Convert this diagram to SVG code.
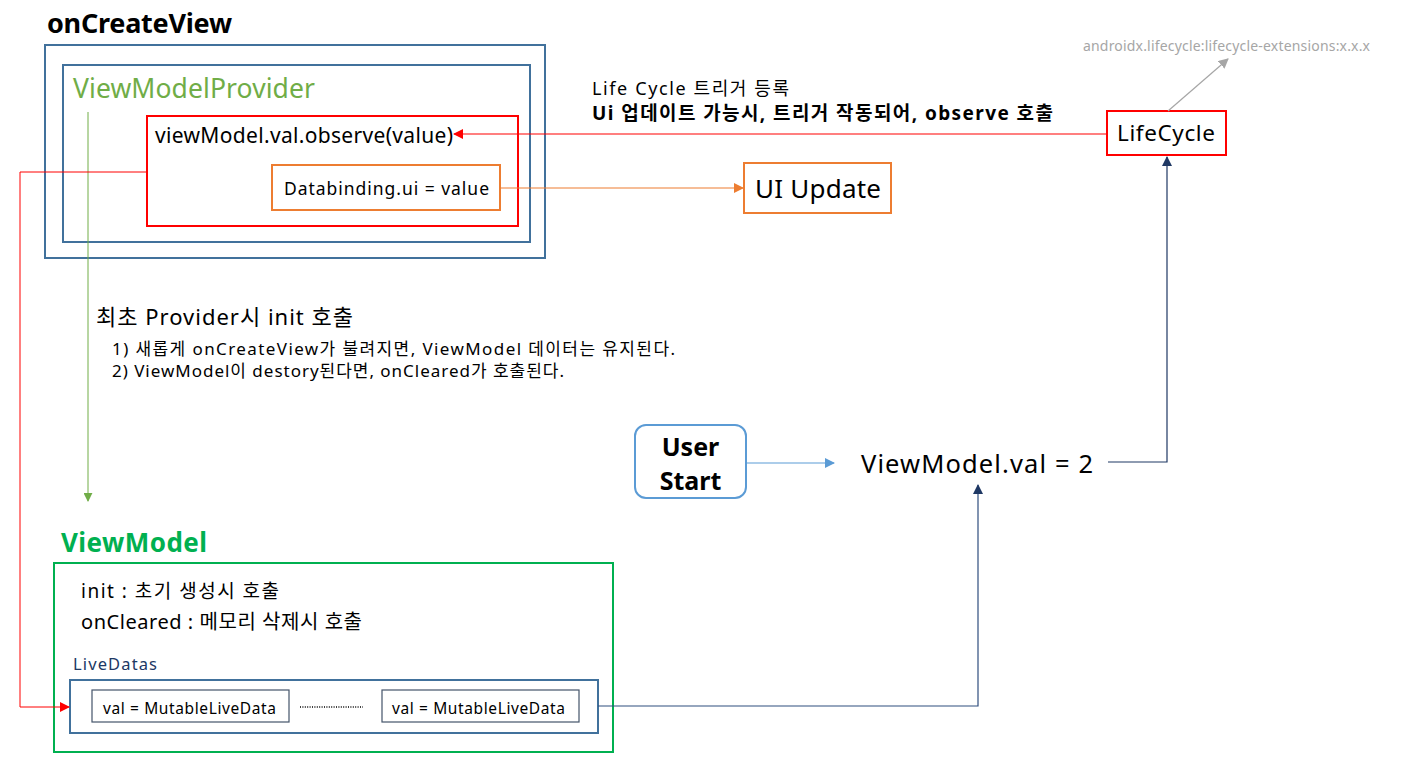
<svg xmlns="http://www.w3.org/2000/svg" width="1404" height="770" viewBox="0 0 1404 770">
<defs>
<style>
text{font-family:"Noto Sans","Noto Sans CJK KR",sans-serif;fill:#000}
.box{fill:none}
.bl{stroke:#41719C;stroke-width:2}
.rd{stroke:#FF0000;stroke-width:2}
.or{stroke:#ED7D31;stroke-width:2}
.gr{stroke:#00B050;stroke-width:2}
.sl{stroke:#44546A;stroke-width:1.2}
.c{fill:none}
</style>
<marker id="aRed" viewBox="0 0 10 10" refX="9" refY="5" markerWidth="10" markerHeight="10" markerUnits="userSpaceOnUse" orient="auto"><path d="M0,0L10,5L0,10z" fill="#FF0000"/></marker>
<marker id="aOr" viewBox="0 0 10 10" refX="9" refY="5" markerWidth="10" markerHeight="10" markerUnits="userSpaceOnUse" orient="auto"><path d="M0,0L10,5L0,10z" fill="#ED7D31"/></marker>
<marker id="aGray" viewBox="0 0 10 10" refX="9" refY="5" markerWidth="10" markerHeight="10" markerUnits="userSpaceOnUse" orient="auto"><path d="M0,0L10,5L0,10z" fill="#A6A6A6"/></marker>
<marker id="aGreen" viewBox="0 0 10 10" refX="9" refY="5" markerWidth="9" markerHeight="9" markerUnits="userSpaceOnUse" orient="auto"><path d="M0,0L10,5L0,10z" fill="#70AD47"/></marker>
<marker id="aBlue" viewBox="0 0 10 10" refX="9" refY="5" markerWidth="10" markerHeight="10" markerUnits="userSpaceOnUse" orient="auto"><path d="M0,0L10,5L0,10z" fill="#5B9BD5"/></marker>
<marker id="aNavy" viewBox="0 0 10 10" refX="9" refY="5" markerWidth="10" markerHeight="10" markerUnits="userSpaceOnUse" orient="auto"><path d="M0,0L10,5L0,10z" fill="#1F3864"/></marker>
</defs>

<g id="onCreateView">
<text x="47" y="33" font-size="27" font-weight="bold" textLength="185">onCreateView</text>
<rect class="box bl" x="45" y="45" width="500" height="213"/>
</g>
<g id="viewModelProvider">
<rect class="box bl" x="63" y="65" width="467" height="177"/>
<text x="73" y="98" font-size="26.5" textLength="242" style="fill:#70AD47">ViewModelProvider</text>
</g>
<g id="observe">
<rect class="box rd" x="147" y="116" width="371" height="110"/>
<text x="155" y="143" font-size="21" textLength="298">viewModel.val.observe(value)</text>
</g>
<g id="databinding">
<rect class="box or" x="272" y="165" width="228" height="45"/>
<text x="284" y="195" font-size="17.5" textLength="205">Databinding.ui = value</text>
</g>
<g id="uiUpdate">
<rect class="box or" x="744" y="163" width="147" height="50"/>
<text x="755" y="198" font-size="26" textLength="126">UI Update</text>
</g>
<g id="lifeCycle">
<rect class="box rd" x="1107" y="111" width="119" height="44"/>
<text x="1117" y="141" font-size="22.5" textLength="98">LifeCycle</text>
</g>
<g id="androidx">
<text x="1083" y="51" font-size="14" textLength="287" style="fill:#A6A6A6">androidx.lifecycle:lifecycle-extensions:x.x.x</text>
</g>
<g id="lifecycleLabel">
<text x="592" y="95" font-size="18" textLength="197">Life Cycle 트리거 등록</text>
<text x="592" y="120" font-size="19" font-weight="bold" textLength="461">Ui 업데이트 가능시, 트리거 작동되어, observe 호출</text>
</g>
<g id="providerNote">
<text x="96" y="325" font-size="22" textLength="257">최초 Provider시 init 호출</text>
<text x="112" y="355" font-size="17" textLength="563">1) 새롭게 onCreateView가 불려지면, ViewModel 데이터는 유지된다.</text>
<text x="112" y="377" font-size="17" textLength="452">2) ViewModel이 destory된다면, onCleared가 호출된다.</text>
</g>
<g id="userStart">
<rect x="635" y="425" width="111" height="73" rx="11" fill="#fff" stroke="#5B9BD5" stroke-width="2"/>
<text x="690.5" y="456" font-size="25" font-weight="bold" text-anchor="middle">User</text>
<text x="690.5" y="490" font-size="25" font-weight="bold" text-anchor="middle">Start</text>
</g>
<g id="viewModelVal">
<text x="861" y="473" font-size="25.5" textLength="232">ViewModel.val = 2</text>
</g>
<g id="viewModel">
<text x="61" y="552" font-size="26" font-weight="bold" textLength="146" style="fill:#00B050">ViewModel</text>
<rect class="box gr" x="54" y="563" width="559" height="189"/>
<text x="81" y="598" font-size="19" textLength="198">init : 초기 생성시 호출</text>
<text x="81" y="629" font-size="20" textLength="281">onCleared : 메모리 삭제시 호출</text>
</g>
<g id="liveDatas">
<text x="73" y="670" font-size="16.5" textLength="84" style="fill:#203864">LiveDatas</text>
<rect class="box bl" x="70" y="680" width="528" height="53"/>
</g>
<g id="val1">
<rect class="box sl" x="92" y="690" width="197" height="32"/>
<text x="103" y="714" font-size="15.5" textLength="173">val = MutableLiveData</text>
</g>
<g id="dots">
<line x1="300" y1="707" x2="363" y2="707" stroke="#000" stroke-width="1.5" stroke-dasharray="1 1.4"/>
</g>
<g id="val2">
<rect class="box sl" x="382" y="690" width="197" height="32"/>
<text x="392" y="714" font-size="15.5" textLength="173">val = MutableLiveData</text>
</g>

<g id="connectors">
<path class="c" d="M1107,134 L454,134" stroke="#FF0000" stroke-width="1.2" marker-end="url(#aRed)"/>
<path class="c" d="M500,188 L743,188" stroke="#ED7D31" stroke-width="1.2" marker-end="url(#aOr)"/>
<path class="c" d="M1168,111 L1228,59" stroke="#A6A6A6" stroke-width="1.2" marker-end="url(#aGray)"/>
<path class="c" d="M88,112 L88,501" stroke="#70AD47" stroke-width="1" marker-end="url(#aGreen)"/>
<path class="c" d="M147,172 L20,172 L20,707 L69,707" stroke="#FF0000" stroke-width="1" marker-end="url(#aRed)"/>
<path class="c" d="M746,463 L834,463" stroke="#5B9BD5" stroke-width="1.2" marker-end="url(#aBlue)"/>
<path class="c" d="M1108,462 L1167,462 L1167,157" stroke="#1F3864" stroke-width="1.2" marker-end="url(#aNavy)"/>
<path class="c" d="M598,706 L978,706 L978,485" stroke="#2F4E7E" stroke-width="1.2" marker-end="url(#aNavy)"/>
</g>
</svg>
